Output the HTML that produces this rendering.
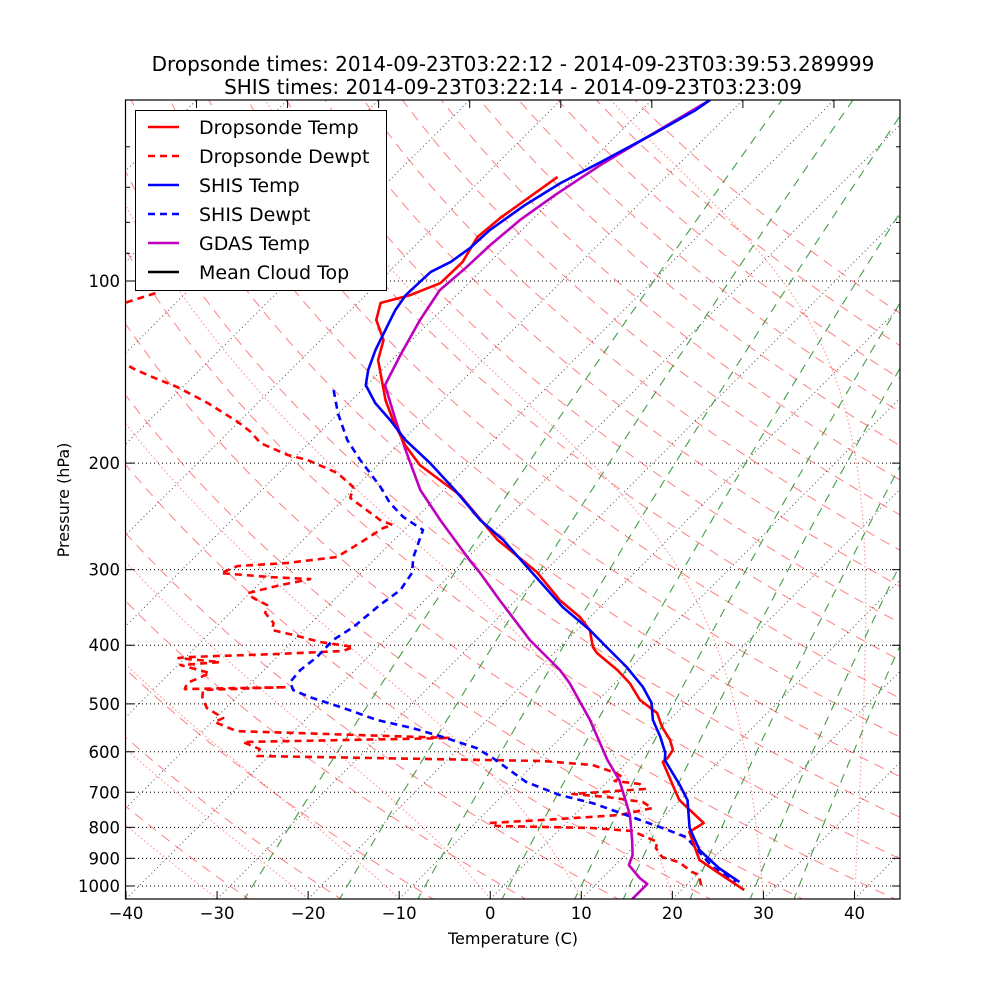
<!DOCTYPE html>
<html><head><meta charset="utf-8"><style>
html,body{margin:0;padding:0;background:#fff;}
svg{display:block;font-family:"DejaVu Sans","Liberation Sans",sans-serif;}
</style></head><body>
<svg id="chart" width="1000" height="1000" viewBox="0 0 1000 1000" xmlns="http://www.w3.org/2000/svg">
<rect x="0" y="0" width="1000" height="1000" fill="#fff"/>
<defs><clipPath id="clip"><rect x="126" y="100" width="774" height="799"/></clipPath></defs>
<g id="bg" clip-path="url(#clip)"></g>
<g id="series" clip-path="url(#clip)"></g>
<g id="axes"></g>
<text x="513" y="71" font-size="20" text-anchor="middle">Dropsonde times: 2014-09-23T03:22:12 - 2014-09-23T03:39:53.289999</text>
<text x="513" y="94" font-size="20" text-anchor="middle">SHIS times: 2014-09-23T03:22:14 - 2014-09-23T03:23:09</text>
<text x="513" y="944" font-size="16" text-anchor="middle">Temperature (C)</text>
<text transform="translate(69,500) rotate(-90)" font-size="16" text-anchor="middle">Pressure (hPa)</text>
<g id="legend">
<rect x="135.5" y="110.5" width="251" height="180" fill="#fff" stroke="#000" stroke-width="1"/>
</g>
</svg>
<script>
// ---- data (temperature °C, pressure hPa) ----
const dropTempT = [-71.9,-73.7,-74.1,-73.0,-73.1,-75.1,-77.5,-76.1,-73.1,-71.5,-66.3,-63.3,-59.2,-55.4,-47.7,-38.6,-30.8,-25.2,-21.1,-18.6,-16.4,-15.3,-11.2,-8.4,-5.4,-2.1,0.0,2.3,3.7,4.0,3.9,9.9,15.1,14.5,18.7,23.6,26.9];
const dropTempP = [67.3,78.7,84.6,93.0,100.8,105.5,108.7,116.0,125.2,135.1,157.3,169.7,186.7,201.4,225.8,268.0,302.7,336.8,359.3,377.5,402.7,412.0,439.5,461.9,492.8,517.6,546.2,573.8,596.0,614.4,623.7,721.0,786.8,814.1,905.8,970.0,1015.3];
const dropDewT = [-103.3,-105.4,-106.9,-97.6,-95.2,-90.6,-85.5,-80.1,-77.6,-75.3,-71.0,-68.3,-63.6,-60.3,-59.4,-53.7,-51.8,-52.5,-53.4,-54.4,-59.2,-64.3,-65.4,-59.5,-54.9,-57.5,-60.2,-59.1,-56.8,-56.1,-54.1,-53.5,-50.6,-46.9,-42.7,-43.4,-50.3,-59.9,-60.7,-55.7,-59.7,-55.6,-57.0,-56.6,-45.6,-54.5,-53.8,-52.1,-49.2,-49.7,-46.3,-22.1,-44.4,-41.8,-41.3,-9.4,-3.5,0.0,1.1,0.7,3.8,4.9,-2.5,1.6,6.1,7.8,5.0,-1.2,-8.4,-7.3,3.4,8.1,10.3,12.1,12.6,14.3,16.7,19.2,20.3,22.0];
const dropDewP = [104.7,108.3,122.8,139.3,143.0,149.7,159.1,171.0,177.6,185.3,193.9,197.6,207.6,219.0,228.4,248.4,253.1,256.0,271.1,285.9,292.5,295.9,303.9,308.6,311.0,318.2,328.0,334.2,343.2,353.9,367.6,377.5,384.7,395.1,402.7,408.9,413.6,418.4,420.0,426.5,431.4,444.6,461.9,472.6,469.0,474.3,487.2,507.9,527.7,535.8,554.5,569.4,578.1,593.8,609.8,621.5,631.0,650.6,660.6,670.7,678.4,691.4,704.7,712.8,726.5,743.3,763.3,774.9,786.8,795.8,802.0,811.1,829.9,845.9,865.6,896.0,913.3,948.2,959.2,1007.6];
const shisTempT = [-63.6,-64.1,-66.0,-68.8,-70.9,-72.4,-73.5,-73.7,-74.3,-75.4,-75.6,-75.1,-74.0,-72.9,-71.5,-70.1,-67.1,-63.6,-59.7,-54.5,-48.8,-42.7,-38.0,-24.1,-18.6,-14.9,-10.5,-6.5,-3.8,-1.8,0.9,3.2,3.9,8.3,10.8,14.1,17.6,21.7,25.5];
const shisTempP = [50.2,52.2,56.9,63.6,68.9,74.9,82.4,88.2,93.0,96.6,105.5,111.7,120.5,130.0,140.3,148.6,159.1,169.7,183.2,199.9,221.5,248.4,268.0,345.9,377.5,402.7,434.5,469.0,498.4,531.6,567.2,602.9,619.0,680.9,721.0,802.0,871.9,933.9,984.9];
const shisDewT = [-73.1,-70.1,-66.1,-62.5,-60.0,-57.3,-54.5,-51.5,-47.9,-46.0,-44.4,-43.8,-44.4,-44.9,-45.7,-45.6,-46.0,-45.8,-44.6,-42.0,-37.1,-32.1,-27.3,-23.0,-18.1,-15.2,-8.9,-3.8,0.7,5.7,10.7,14.7,17.8,20.9,25.1];
const shisDewP = [151.4,165.3,183.2,197.6,207.6,219.0,232.8,245.5,258.0,285.9,303.9,324.2,343.2,373.2,392.1,418.4,439.5,460.1,474.3,487.2,507.9,531.6,548.2,567.2,591.5,614.4,673.2,707.4,729.3,763.3,799.0,829.9,878.6,930.1,984.9];
const gdasTempT = [-63.6,-66.3,-68.5,-70.2,-71.3,-71.8,-72.0,-72.4,-71.3,-69.6,-68.0,-63.0,-58.6,-52.6,-47.1,-39.5,-36.9,-31.8,-24.1,-17.5,-15.0,-8.7,-2.4,1.1,6.1,9.1,10.8,11.5,14.1,15.6,15.6];
const gdasTempP = [50.2,57.4,64.3,72.1,79.3,87.2,95.2,103.5,116.0,132.5,148.6,169.7,190.3,221.5,248.4,289.2,303.9,336.8,392.1,439.5,461.9,531.6,619.0,668.0,763.0,839.5,888.8,923.3,970.0,992.4,1054.7];
const xTicks = [-40,-30,-20,-10,0,10,20,30,40];
const yTicks = [100,200,300,400,500,600,700,800,900,1000];
const yMinor = [60,70,80,90];
const mixRatios = [0.4,1,2,4,7,10,16,24,32];

// ---- scales ----
const X0=126, X1=900, Y0=100, Y1=899, TMIN=-40, TMAX=45;
const PX = (X1-X0)/(TMAX-TMIN);
function yP(p){ return 281 + 605*Math.log10(p/100); }
function xU(t){ return X0 + (t-TMIN)*PX; }
function xTP(t,p){ return xU(t) + (Y1 - yP(p)); }
const NS='http://www.w3.org/2000/svg';
function mk(tag, parent){ const e=document.createElementNS(NS,tag); parent.appendChild(e); return e; }
function pathD(ts, ps){ let d=''; for(let i=0;i<ts.length;i++){ d += (i?'L':'M') + xTP(ts[i],ps[i]).toFixed(1)+','+yP(ps[i]).toFixed(1); } return d; }
const bg=document.getElementById('bg'), ser=document.getElementById('series'), ax=document.getElementById('axes'), lg=document.getElementById('legend');

const levels=[]; for(let p=1060;p>=45;p-=5) levels.push(p);

yTicks.forEach(p=>{
  const l=mk('line',bg);
  
  
  l.setAttribute('x1',X0); l.setAttribute('x2',X1); l.setAttribute('y1',yP(p)); l.setAttribute('y2',yP(p));
  l.setAttribute('stroke','#000'); l.setAttribute('stroke-width','1'); l.setAttribute('stroke-dasharray','1,3');
});
for(let t=-200;t<=50;t+=10){
  const l=mk('line',bg);
  
  
  l.setAttribute('x1',xU(t)); l.setAttribute('y1',Y1); l.setAttribute('x2',xU(t)+(Y1-Y0)); l.setAttribute('y2',Y0);
  l.setAttribute('stroke','#000'); l.setAttribute('stroke-width','1'); l.setAttribute('stroke-dasharray','1,3'); l.setAttribute('opacity','0.7');
}
for(let th=-30;th<=200;th+=10){
  const ts=levels.map(p=>(th+273.15)*Math.pow(p/1000,0.2857)-273.15);
  const e=mk('path',bg);
  
  
  e.setAttribute('d',pathD(ts,levels)); e.setAttribute('fill','none'); e.setAttribute('stroke','#ff0000'); e.setAttribute('opacity','0.5'); e.setAttribute('stroke-width','1'); e.setAttribute('stroke-dasharray','10,7');
}
function dTdp(T,p){ const Tc=T-273.15; const es=6.112*Math.exp(17.67*Tc/(Tc+243.5)); const rs=0.622*es/(p-es);
  return (287.04*T + 2.501e6*rs)/(p*(1005.7 + 2.501e6*2.501e6*rs*0.622/(287.04*T*T))); }
for(let t0=-30;t0<=40;t0+=10){
  const ps=[1050], ts=[t0]; let T=t0+273.15;
  for(let p=1050;p>50;p-=2){ const k1=dTdp(T,p); const k2=dTdp(T-k1*1,p-1); T-=k2*2; ps.push(p-2); ts.push(T-273.15); }
  const e=mk('path',bg);
  
  
  e.setAttribute('d',pathD(ts,ps)); e.setAttribute('fill','none'); e.setAttribute('stroke','#ff0000'); e.setAttribute('opacity','0.4'); e.setAttribute('stroke-width','1.2'); e.setAttribute('stroke-dasharray','1.5,2.5');
}
mixRatios.forEach(w=>{
  const ts=levels.map(p=>{ const e=w*p/(622+w); const L=Math.log(e/6.112); return 243.5*L/(17.67-L); });
  const e=mk('path',bg);
  
  
  e.setAttribute('d',pathD(ts,levels)); e.setAttribute('fill','none'); e.setAttribute('stroke','#228b22'); e.setAttribute('opacity','0.85'); e.setAttribute('stroke-width','1.1'); e.setAttribute('stroke-dasharray','9,7');
});

function series(ts,ps,color,dash,name){
  const e=mk('path',ser);
  
  
  e.setAttribute('d',pathD(ts,ps)); e.setAttribute('fill','none'); e.setAttribute('stroke',color); e.setAttribute('stroke-width','2.6'); e.setAttribute('stroke-linejoin','round');
  if(dash) e.setAttribute('stroke-dasharray','7,5');
}
series(dropDewT,dropDewP,'#ff0000',true,'dropsonde-dewpoint-line');
series(shisDewT,shisDewP,'#0000ff',true,'shis-dewpoint-line');
series(gdasTempT,gdasTempP,'#bf00bf',false,'gdas-temp-line');
series(dropTempT,dropTempP,'#ff0000',false,'dropsonde-temp-line');
series(shisTempT,shisTempP,'#0000ff',false,'shis-temp-line');

const fr=mk('rect',ax);


fr.setAttribute('x',X0-0.5); fr.setAttribute('y',Y0); fr.setAttribute('width',X1-X0+0.5); fr.setAttribute('height',Y1-Y0); fr.setAttribute('fill','none'); fr.setAttribute('stroke','#000'); fr.setAttribute('stroke-width','1.2');
function tick(x1,y1,x2,y2,name){ const l=mk('line',ax);
  
  
  l.setAttribute('x1',x1); l.setAttribute('y1',y1); l.setAttribute('x2',x2); l.setAttribute('y2',y2); l.setAttribute('stroke','#000'); l.setAttribute('stroke-width','1'); }
xTicks.forEach(t=>{
  const x=xU(t);
  tick(x,Y1,x,Y1-8,'x-tick');
  const tx=mk('text',ax);
  
  
  tx.setAttribute('x',x); tx.setAttribute('y',919); tx.setAttribute('font-size','16.5'); tx.setAttribute('text-anchor','middle');
  tx.textContent=(t<0?'\u2212'+(-t):String(t));
});
for(let t=-200;t<=50;t+=10){ const x=xU(t)+(Y1-Y0); if(x>=X0&&x<=X1) tick(x,Y0,x,Y0+8,'x-top-tick'); }
yTicks.forEach(p=>{
  const y=yP(p);
  tick(X0,y,X0+8,y,'y-tick'); tick(X1,y,X1-8,y,'y-tick-right');
  const tx=mk('text',ax);
  
  
  tx.setAttribute('x',120); tx.setAttribute('y',y+6); tx.setAttribute('font-size','16.5'); tx.setAttribute('text-anchor','end');
  tx.textContent=String(p);
});
yMinor.forEach(p=>{ const y=yP(p); tick(X0,y,X0+4,y,'y-minor-tick'); tick(X1,y,X1-4,y,'y-minor-tick-right'); });

const legItems=[['Dropsonde Temp','#ff0000',false],['Dropsonde Dewpt','#ff0000',true],['SHIS Temp','#0000ff',false],['SHIS Dewpt','#0000ff',true],['GDAS Temp','#bf00bf',false],['Mean Cloud Top','#000000',false]];
legItems.forEach((it,i)=>{
  const y=127+i*29;
  const g=mk('g',lg);
  
  
  const l=mk('line',g);
  
  
  l.setAttribute('x1',148); l.setAttribute('x2',179); l.setAttribute('y1',y); l.setAttribute('y2',y); l.setAttribute('stroke',it[1]); l.setAttribute('stroke-width','2.6');
  if(it[2]) l.setAttribute('stroke-dasharray','7,5');
  const tx=mk('text',g);
  
  
  tx.setAttribute('x',199); tx.setAttribute('y',y+7); tx.setAttribute('font-size','19');
  tx.textContent=it[0];
});
</script>
</body></html>
